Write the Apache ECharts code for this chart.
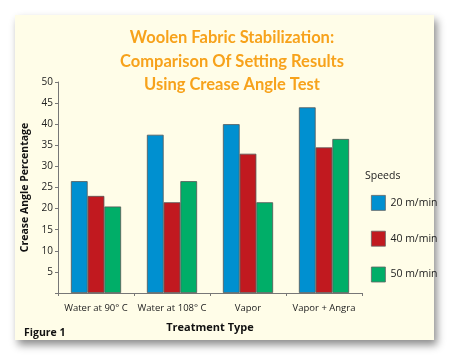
<!DOCTYPE html>
<html><head><meta charset="utf-8">
<script src="https://cdn.jsdelivr.net/npm/echarts@6/dist/echarts.min.js"></script>
<style>html,body{margin:0;padding:0;background:#fff}#c{width:449px;height:355px}</style>
</head><body><div id="c"></div>
<script>
const categories = ['Water at 90° C', 'Water at 108° C', 'Vapor', 'Vapor + Angra'];
const speeds = ['20 m/min', '40 m/min', '50 m/min'];
const speed20 = [26.5, 37.5, 40, 44];
const speed40 = [23, 21.5, 33, 34.5];
const speed50 = [20.5, 26.5, 21.5, 36.5];
const colors = ['#0090D0', '#C1191F', '#00AE68'];
const seriesValues = [speed20, speed40, speed50];

const chart = echarts.init(document.getElementById('c'), null, {renderer: 'canvas'});
const fontFam = '"Open Sans", Lato, sans-serif';
chart.setOption({
  animation: false,
  backgroundColor: '#ffffff',
  graphic: [{
    type: 'rect', z: -10, silent: true,
    shape: {x: 15, y: 15, width: 419, height: 325},
    style: {fill: '#FFFDE8', shadowBlur: 8, shadowOffsetX: 3, shadowOffsetY: 5, shadowColor: 'rgba(0,0,0,0.45)'}
  }],
  title: [{
    text: 'Woolen Fabric Stabilization:\nComparison Of Setting Results\nUsing Crease Angle Test',
    left: 227, top: 21, textAlign: 'center',
    textStyle: {color: '#F7A21B', fontFamily: 'Lato, sans-serif', fontWeight: 'bold', fontSize: 16.5, lineHeight: 23.5}
  }, {
    text: 'Speeds', left: 360, top: 166,
    textStyle: {color: '#222', fontFamily: fontFam, fontWeight: 'normal', fontSize: 10.5}
  }, {
    text: 'Figure 1', left: 19, top: 323,
    textStyle: {color: '#111', fontFamily: fontFam, fontWeight: 'bold', fontSize: 10.5}
  }],
  legend: {
    orient: 'vertical', left: 366, top: 190,
    itemWidth: 14, itemHeight: 15, itemGap: 20,
    data: speeds,
    icon: 'rect',
    itemStyle: {borderColor: '#666', borderWidth: 0.8},
    textStyle: {color: '#222', fontFamily: fontFam, fontSize: 10.5, padding: [8, 0, 0, 0]}
  },
  grid: {left: 58, right: 87, top: 82, bottom: 62, containLabel: false},
  xAxis: {
    type: 'category', data: categories,
    name: 'Treatment Type', nameLocation: 'middle', nameGap: 29,
    nameTextStyle: {color: '#111', fontFamily: fontFam, fontWeight: 'bold', fontSize: 11},
    axisLine: {lineStyle: {color: '#777', width: 1}},
    axisTick: {show: true, length: 3, alignWithLabel: false, lineStyle: {color: '#777'}},
    axisLabel: {color: '#222', fontFamily: fontFam, fontSize: 9.5, margin: 10, interval: 0}
  },
  yAxis: {
    type: 'value', min: 0, max: 50, interval: 5,
    name: 'Crease Angle Percentage', nameLocation: 'middle', nameGap: 23, nameRotate: 90,
    nameTextStyle: {color: '#111', fontFamily: fontFam, fontWeight: 'bold', fontSize: 10.5},
    axisLine: {show: true, lineStyle: {color: '#777', width: 1}},
    axisTick: {show: true, length: 3, lineStyle: {color: '#777'}},
    splitLine: {show: false},
    axisLabel: {color: '#222', fontFamily: fontFam, fontSize: 10, margin: 5,
      formatter: v => v === 0 ? '' : String(v)}
  },
  series: seriesValues.map((vals, i) => ({
    type: 'bar', name: speeds[i], data: vals,
    barGap: '0%', barCategoryGap: '34%',
    itemStyle: {color: colors[i], borderColor: '#555', borderWidth: 0.8}
  }))
});
</script></body></html>
